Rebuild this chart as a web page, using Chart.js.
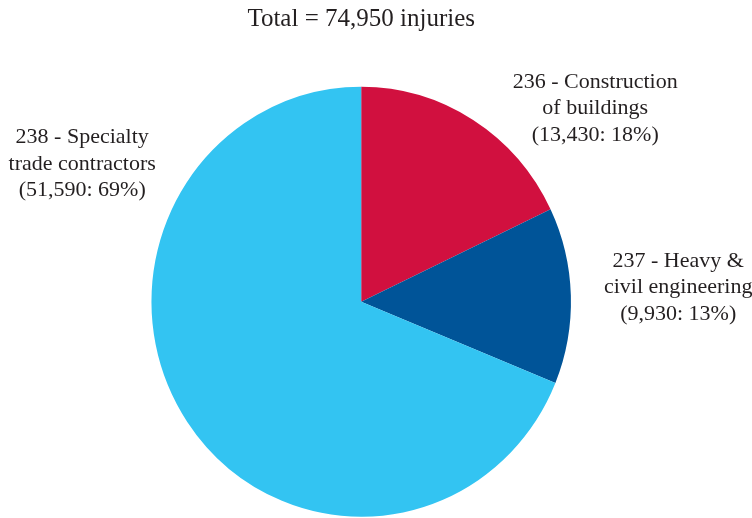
<!DOCTYPE html>
<html>
<head>
<meta charset="utf-8">
<script src="https://cdn.jsdelivr.net/npm/chart.js@4"></script>
<style>
    html, body { margin: 0; padding: 0; background: #ffffff; }
    #wrap { width: 752px; height: 518px; }
</style>
</head>
<body>
<div id="wrap"><canvas id="injuryChart" width="752" height="518"></canvas></div>
<script>
const categories = ["236 - Construction", "237 - Heavy &", "238 - Specialty"];
const subLabels = ["of buildings", "civil engineering", "trade contractors"];
const injuries = [13430, 9930, 51590];
const percents = [18, 13, 69];
const sliceColors = ["#D1103F", "#005498", "#33C4F2"];

// label block offsets from the pie centre (layout only)
const labelOffsets = [[234, -214], [317, -35], [-279, -158.5]];

const total = injuries.reduce((current, currentVal) => current + currentVal, 0);
const fmt = (n) => n.toLocaleString("en-US");

const ctx = document.getElementById("injuryChart");
const serif = "'Liberation Serif', 'Times New Roman', serif";

const stretchY = 1.025;

const ellipsePlugin = {
    id: "ellipse",
    beforeDatasetsDraw(chart) {
        const arc = chart.getDatasetMeta(0).data[0];
        const c = chart.ctx;
        c.save();
        c.translate(arc.x, arc.y);
        c.scale(1, stretchY);
        c.translate(-arc.x, -arc.y);
    },
    afterDatasetsDraw(chart) {
        chart.ctx.restore();
    },
};

const labelPlugin = {
    id: "sliceLabels",
    afterDraw(chart) {
        const c = chart.ctx;
        const arc = chart.getDatasetMeta(0).data[0];
        c.save();
        c.font = "22px " + serif;
        c.fillStyle = "#231F20";
        c.textAlign = "center";
        c.textBaseline = "alphabetic";
        for (let i = 0; i < categories.length; i++) {
            const x = arc.x + labelOffsets[i][0];
            const y = arc.y + labelOffsets[i][1];
            const lines = [categories[i], subLabels[i], "(" + fmt(injuries[i]) + ": " + percents[i] + "%)"];
            for (let j = 0; j < lines.length; j++) {
                c.fillText(lines[j], x, y + j * 26.5);
            }
        }
        c.restore();
    },
};

new Chart(ctx, {
    type: "pie",
    data: {
        labels: categories,
        datasets: [
            {
                data: injuries,
                backgroundColor: sliceColors,
                borderWidth: 0,
            },
        ],
    },
    options: {
        responsive: false,
        animation: false,
        events: [],
        layout: {
            padding: { top: 0, bottom: 6.5, left: 0, right: 29.6 },
        },
        plugins: {
            legend: { display: false },
            tooltip: { enabled: false },
            title: {
                display: true,
                text: "Total = " + fmt(total) + " injuries",
                color: "#231F20",
                font: { family: serif, size: 25, weight: "normal" },
                padding: { top: 4, bottom: 58 },
            },
        },
    },
    plugins: [ellipsePlugin, labelPlugin],
});
</script>
</body>
</html>
